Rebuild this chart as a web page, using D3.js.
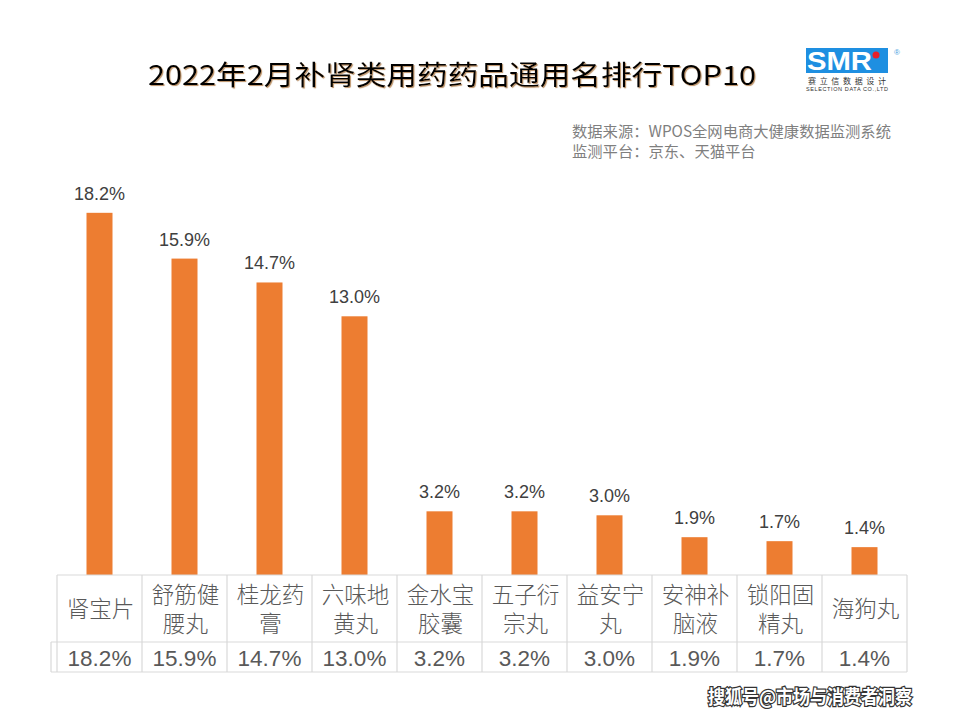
<!DOCTYPE html>
<html><head><meta charset="utf-8">
<script src="https://cdn.jsdelivr.net/npm/d3@7/dist/d3.min.js"></script>
<style>
html,body{margin:0;padding:0;background:#fff;}
svg{display:block;}
</style></head>
<body>
<svg id="c" width="960" height="720"></svg>
<script>
const categories = ["肾宝片","舒筋健腰丸","桂龙药膏","六味地黄丸","金水宝胶囊","五子衍宗丸","益安宁丸","安神补脑液","锁阳固精丸","海狗丸"];
const values = [18.2, 15.9, 14.7, 13.0, 3.2, 3.2, 3.0, 1.9, 1.7, 1.4];
const valueLabels = ["18.2%","15.9%","14.7%","13.0%","3.2%","3.2%","3.0%","1.9%","1.7%","1.4%"];
const titleText = "2022年2月补肾类用药药品通用名排行TOP10";
const sourceLines = ["数据来源：WPOS全网电商大健康数据监测系统","监测平台：京东、天猫平台"];
const watermark = "搜狐号@市场与消费者洞察";

(function(){
const svg = d3.select("#c");
const cjk = "'Noto Sans CJK SC','Noto Sans',sans-serif";
const lat = "'Liberation Sans',Arial,sans-serif";

const defs = svg.append("defs");
const f = defs.append("filter").attr("id","sh").attr("x","-5%").attr("y","-20%").attr("width","110%").attr("height","140%");
f.append("feDropShadow").attr("dx",1.1).attr("dy",1.1).attr("stdDeviation",0.4).attr("flood-color","#b08050").attr("flood-opacity",0.8);

// title
svg.append("text").attr("x",452).attr("y",85).attr("text-anchor","middle")
  .attr("font-family",cjk).attr("font-size",27).attr("font-weight",400).attr("fill","#000")
  .attr("textLength",608).attr("lengthAdjust","spacingAndGlyphs")
  .attr("filter","url(#sh)").text(titleText);

// logo
const lg = svg.append("g");
lg.append("rect").attr("x",806).attr("y",48).attr("width",82).attr("height",25).attr("fill","#1e8fe1");
lg.append("text").attr("x",807).attr("y",70).attr("font-family",lat).attr("font-weight",700).attr("font-size",26)
  .attr("fill","#fff").attr("textLength",65).attr("lengthAdjust","spacingAndGlyphs").text("SMR");
lg.append("circle").attr("cx",876).attr("cy",55).attr("r",3.5).attr("fill","#e8202a");
lg.append("text").attr("x",894).attr("y",55).attr("font-family",lat).attr("font-size",8).attr("fill","#4aa0e0").text("®");
lg.append("text").attr("x",808).attr("y",84).attr("font-family",cjk).attr("font-size",8).attr("fill","#333")
  .attr("textLength",78).attr("lengthAdjust","spacing").text("赛立信数据设计");
lg.append("text").attr("x",806).attr("y",91).attr("font-family",lat).attr("font-size",5.5).attr("fill","#333")
  .attr("textLength",82).attr("lengthAdjust","spacing").text("SELECTION DATA CO.,LTD");

// source
svg.selectAll("text.src").data(sourceLines).join("text").attr("class","src")
  .attr("x",572).attr("y",(d,i)=>137+i*20).attr("font-family",cjk).attr("font-size",15.3)
  .attr("fill","#7f7f7f").text(d=>d);

// scales
const x = d3.scaleBand().domain(categories).range([57,907]).paddingInner(0).paddingOuter(0);
const y = d3.scaleLinear().domain([0,20]).range([575,177]);
const bw = 26;

svg.selectAll("rect.bar").data(values).join("rect").attr("class","bar")
  .attr("x",(d,i)=>x(categories[i])+x.bandwidth()/2-bw/2)
  .attr("y",d=>y(d)).attr("width",bw).attr("height",d=>y(0)-y(d)).attr("fill","#ED7D31");

svg.selectAll("text.bl").data(values).join("text").attr("class","bl")
  .attr("x",(d,i)=>x(categories[i])+x.bandwidth()/2).attr("y",d=>y(d)-13)
  .attr("text-anchor","middle").attr("font-family",lat).attr("font-size",18).attr("fill","#404040")
  .text((d,i)=>valueLabels[i]);

// table
const tb = svg.append("g").attr("stroke","#d9d9d9").attr("stroke-width",1.2).attr("fill","none");
const tTop=575, tMid=642, tBot=672, L=57, R=907;
tb.append("line").attr("x1",L).attr("x2",R).attr("y1",tTop).attr("y2",tTop);
tb.append("line").attr("x1",51).attr("x2",R).attr("y1",tMid).attr("y2",tMid);
tb.append("line").attr("x1",51).attr("x2",R).attr("y1",tBot).attr("y2",tBot);
tb.append("line").attr("x1",51).attr("x2",51).attr("y1",tMid).attr("y2",tBot);
const edges = categories.map(c=>x(c)).concat([R]);
tb.selectAll("line.v").data(edges).join("line").attr("class","v")
  .attr("x1",d=>d).attr("x2",d=>d).attr("y1",tTop).attr("y2",tBot);

// category labels
const cg = svg.append("g");
categories.forEach((c,i)=>{
  const lines = c.length>3 ? [c.slice(0,3), c.slice(3)] : [c];
  const cx = x(c)+x.bandwidth()/2 + 1;
  const t = cg.append("text").attr("x",cx).attr("text-anchor","middle")
    .attr("font-family",cjk).attr("font-size",22.5).attr("font-weight",300).attr("fill","#595959");
  if(lines.length===1){
    t.append("tspan").attr("x",cx).attr("y",617).text(lines[0]);
  } else {
    t.append("tspan").attr("x",cx).attr("y",603).text(lines[0]);
    t.append("tspan").attr("x",cx).attr("y",632).text(lines[1]);
  }
});

svg.selectAll("text.tv").data(valueLabels).join("text").attr("class","tv")
  .attr("x",(d,i)=>x(categories[i])+x.bandwidth()/2).attr("y",666)
  .attr("text-anchor","middle").attr("font-family",lat).attr("font-size",22.5).attr("fill","#595959")
  .text(d=>d);

// watermark
svg.append("text").attr("x",912).attr("y",704).attr("text-anchor","end")
  .attr("font-family",cjk).attr("font-size",19).attr("font-weight",700)
  .attr("fill","#fff").attr("stroke","#333").attr("stroke-width",2.5).attr("paint-order","stroke")
  .attr("textLength",204).attr("lengthAdjust","spacingAndGlyphs").text(watermark);
})();
</script>
</body></html>
